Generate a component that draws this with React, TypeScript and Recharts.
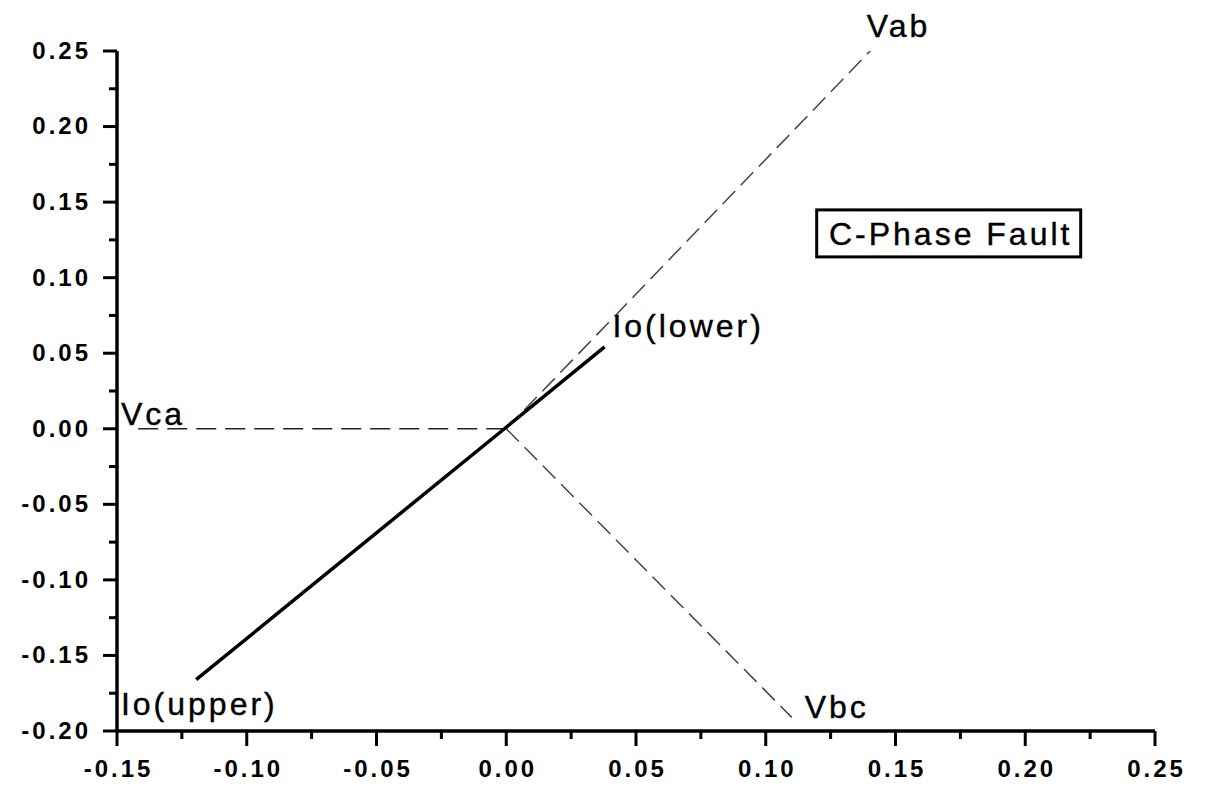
import React from "react";
import { LineChart, Line, XAxis, YAxis, ReferenceDot } from "recharts";

// ---- data ----
const xTicks = [
  -0.15, -0.125, -0.1, -0.075, -0.05, -0.025, 0, 0.025, 0.05, 0.075, 0.1, 0.125, 0.15, 0.175, 0.2, 0.225, 0.25,
];
const yTicks = [
  -0.2, -0.175, -0.15, -0.125, -0.1, -0.075, -0.05, -0.025, 0, 0.025, 0.05, 0.075, 0.1, 0.125, 0.15, 0.175, 0.2,
  0.225, 0.25,
];

const vabSeries = [
  { x: 0, y: 0 },
  { x: 0.143, y: 0.255 },
];
const vbcSeries = [
  { x: 0, y: 0 },
  { x: 0.11, y: -0.191 },
];
const vcaSeries = [
  { x: 0, y: 0 },
  { x: -0.142, y: 0 },
];
const ioSeries = [
  { x: -0.1195, y: -0.166 },
  { x: 0, y: 0.001 },
  { x: 0.0379, y: 0.0542 },
];

const annotations = [
  { text: "Vab", x: 0.1389, y: 0.2593 },
  { text: "Vca", x: -0.1485, y: 0.0026 },
  { text: "Vbc", x: 0.115, y: -0.1915 },
  { text: "Io(lower)", x: 0.0409, y: 0.0608 },
  { text: "Io(upper)", x: -0.1485, y: -0.1892 },
];
const boxNote = { text: "C-Phase Fault", x: 0.1705, y: 0.1293 };

// ---- styling helpers ----
const FONT = "'Liberation Sans', Arial, sans-serif";
const isMajor = (v: number) => Math.abs(v * 20 - Math.round(v * 20)) < 1e-6;

const YTick = (props: any) => {
  const { x, y, payload } = props;
  const v = payload.value as number;
  const major = isMajor(v);
  return (
    <g>
      <line x1={x} x2={x - (major ? 14 : 8)} y1={y} y2={y} stroke="#000" strokeWidth={3} />
      {major && (
        <text
          x={x - 26}
          y={y}
          dy="0.33em"
          textAnchor="end"
          fontFamily={FONT}
          fontWeight="bold"
          fontSize={24}
          letterSpacing={3}
          fill="#000"
        >
          {v.toFixed(2)}
        </text>
      )}
    </g>
  );
};

const XTick = (props: any) => {
  const { x, y, payload } = props;
  const v = payload.value as number;
  const major = isMajor(v);
  return (
    <g>
      <line x1={x} x2={x} y1={y} y2={y + (major ? 15 : 8)} stroke="#000" strokeWidth={3} />
      {major && (
        <text
          x={x + 1.5}
          y={y + 46}
          textAnchor="middle"
          fontFamily={FONT}
          fontWeight="bold"
          fontSize={24}
          letterSpacing={3}
          fill="#000"
        >
          {v.toFixed(2)}
        </text>
      )}
    </g>
  );
};

export default function App() {
  return (
    <LineChart width={1203} height={784} margin={{ top: 43, right: 56, bottom: 11, left: 0 }}>
      <XAxis
        type="number"
        dataKey="x"
        domain={[-0.15, 0.25]}
        ticks={xTicks}
        interval={0}
        allowDataOverflow
        height={50}
        tickSize={0}
        tickMargin={0}
        tickLine={false}
        axisLine={{ stroke: "#000", strokeWidth: 3.5 }}
        tick={<XTick />}
      />
      <YAxis
        type="number"
        dataKey="y"
        domain={[-0.2, 0.25]}
        ticks={yTicks}
        interval={0}
        allowDataOverflow
        width={109}
        tickSize={0}
        tickMargin={0}
        tickLine={false}
        axisLine={{ stroke: "#000", strokeWidth: 3.5 }}
        tick={<YTick />}
      />
      <Line
        data={vcaSeries}
        dataKey="y"
        stroke="#222"
        strokeWidth={1.6}
        strokeDasharray="20 9"
        dot={false}
        isAnimationActive={false}
      />
      <Line
        data={vabSeries}
        dataKey="y"
        stroke="#444"
        strokeWidth={1.5}
        strokeDasharray="18 8"
        dot={false}
        isAnimationActive={false}
      />
      <Line
        data={vbcSeries}
        dataKey="y"
        stroke="#444"
        strokeWidth={1.5}
        strokeDasharray="18 8"
        dot={false}
        isAnimationActive={false}
      />
      <Line
        data={ioSeries}
        dataKey="y"
        stroke="#000"
        strokeWidth={3.5}
        dot={false}
        isAnimationActive={false}
      />
      {annotations.map((a) => (
        <ReferenceDot
          key={a.text}
          x={a.x}
          y={a.y}
          r={0}
          ifOverflow="visible"
          shape={(p: any) => (
            <text
              x={p.cx}
              y={p.cy}
              fontFamily={FONT}
              fontSize={32}
              letterSpacing={3}
              fill="#000"
              stroke="#000"
              strokeWidth={0.4}
            >
              {a.text}
            </text>
          )}
        />
      ))}
      <ReferenceDot
        x={boxNote.x}
        y={boxNote.y}
        r={0}
        ifOverflow="visible"
        shape={(p: any) => (
          <g>
            <rect
              x={p.cx - 132}
              y={p.cy - 23.5}
              width={264}
              height={47}
              fill="#fff"
              stroke="#000"
              strokeWidth={3}
            />
            <text
              x={p.cx + 2}
              y={p.cy}
              dy="0.35em"
              textAnchor="middle"
              fontFamily={FONT}
              fontSize={32}
              letterSpacing={3}
              fill="#000"
              stroke="#000"
              strokeWidth={0.4}
            >
              {boxNote.text}
            </text>
          </g>
        )}
      />
    </LineChart>
  );
}
